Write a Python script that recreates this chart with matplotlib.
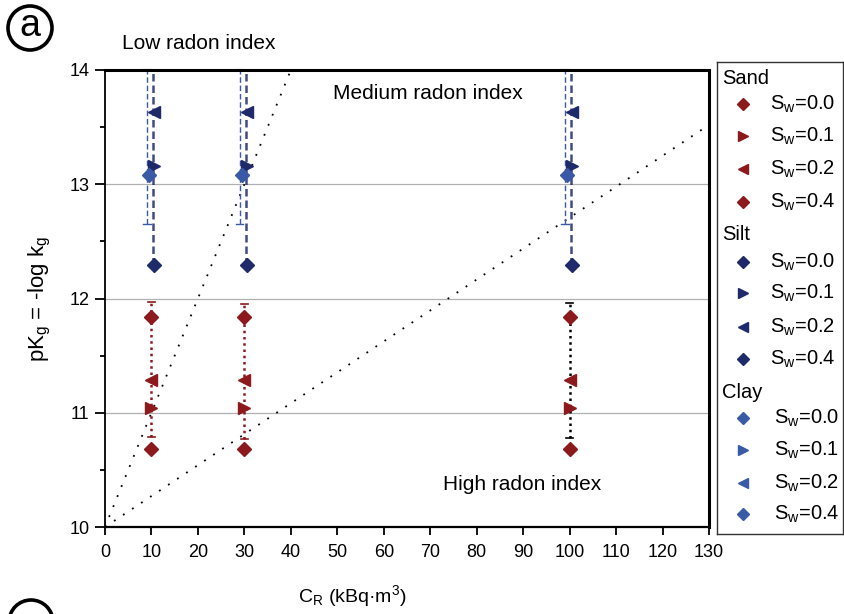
import matplotlib
matplotlib.use("Agg")
import matplotlib.pyplot as plt
from matplotlib.patches import Circle

plt.rcParams['font.family'] = ['Liberation Sans', 'DejaVu Sans']
plt.rcParams['mathtext.fontset'] = 'custom'
plt.rcParams['mathtext.rm'] = 'Liberation Sans'
plt.rcParams['mathtext.it'] = 'Liberation Sans'

# ---- data ----
concentrations = [10, 30, 100]                 # C_R (kBq m-3)
saturations = ["0.0", "0.1", "0.2", "0.4"]
sand_pk = [10.68, 11.04, 11.29, 11.84]          # pKg for Sw = 0.0, 0.1, 0.2, 0.4
silt_pk = [12.29, 13.16, 13.63, None]
clay_pk = [13.08, None, None, None]
sand_range = [(10.79, 11.97), (10.77, 11.95), (10.78, 11.96)]
silt_range = (12.29, 14.3)
clay_range = (12.65, 14.0)
boundary_low_med = [(0, 10.0), (40, 14.0)]
boundary_med_high = [(0, 10.0), (130, 13.52)]

SAND = "#8c1a1d"
SILT = "#1f2a6b"
CLAY = "#3a5aa8"
markers = ["D", ">", "<", "D"]
msizes = [6.8, 9, 9, 6.8]

fig = plt.figure(figsize=(8.44, 6.14), dpi=100)
W, H = 844, 614
ax = fig.add_axes([105 / W, 1 - 527 / H, (709 - 105) / W, (527 - 70) / H])

ax.set_xlim(0, 130)
ax.set_ylim(10, 14)

for yy in [11, 12, 13]:
    ax.axhline(yy, color="#b0b0b0", lw=0.9, zorder=0)

# boundary lines
for seg in (boundary_low_med, boundary_med_high):
    ax.plot([seg[0][0], seg[1][0]], [seg[0][1], seg[1][1]], color="black",
            lw=1.3, linestyle=(0, (1, 5)), zorder=1)

# error ranges
for i, x0 in enumerate(concentrations):
    lo, hi = sand_range[i]
    col = SAND if i < 2 else "black"
    ax.plot([x0, x0], [lo, hi], color=col, lw=1.8, linestyle=(0, (1, 1.5)), zorder=2)
    ax.plot([x0 - 0.8, x0 + 0.8], [hi, hi], color=col, lw=1.2, zorder=2)
    ax.plot([x0 - 0.8, x0 + 0.8], [lo, lo], color=col, lw=1.2, zorder=2)
    # clay
    xc = x0 - 1.0
    ax.plot([xc, xc], list(clay_range), color=CLAY, lw=1.0, linestyle=(0, (4, 2)), zorder=2,
            clip_on=False)
    ax.plot([xc - 0.8, xc + 0.8], [clay_range[0]] * 2, color=CLAY, lw=1.0, zorder=2)
    ax.plot([xc - 0.8, xc + 0.8], [clay_range[1]] * 2, color=CLAY, lw=1.5, zorder=2,
            clip_on=False)
    # silt
    xs = x0 + 0.4
    ax.plot([xs, xs], [silt_range[0], 14.0], color=SILT, lw=1.8, linestyle=(0, (3, 1.6)),
            alpha=0.85, zorder=2)

# points
for x0 in concentrations:
    for k in range(4):
        if sand_pk[k] is not None:
            ax.plot(x0, sand_pk[k], marker=markers[k], ms=msizes[k], color=SAND,
                    ls="none", zorder=4)
        if silt_pk[k] is not None:
            ax.plot(x0 + 0.6, silt_pk[k], marker=markers[k], ms=msizes[k], color=SILT,
                    ls="none", zorder=4)
        if clay_pk[k] is not None:
            ax.plot(x0 - 0.6, clay_pk[k], marker=markers[k], ms=msizes[k], color=CLAY,
                    ls="none", zorder=5)

# axes styling
ax.set_xticks(range(0, 131, 10))
ax.set_yticks([10, 11, 12, 13, 14])
ax.set_yticks([10.5, 11.5, 12.5, 13.5], minor=True)
ax.tick_params(axis="x", which="major", direction="out", length=5.5, width=1.3,
               labelsize=13, pad=7)
ax.tick_params(axis="y", which="major", direction="out", length=7, width=1.3,
               labelsize=13, pad=4)
ax.tick_params(axis="y", which="minor", direction="out", length=3.6, width=1.3)
ax.spines["top"].set_linewidth(2.2)
ax.spines["right"].set_linewidth(2.2)
ax.spines["bottom"].set_linewidth(1.6)
ax.spines["left"].set_linewidth(1.3)

ax.set_xlabel(r"C$_\mathregular{R}$ (kBq·m$^\mathregular{3}$)", fontsize=14)
ax.xaxis.set_label_coords((352 - 105) / 604, -(596 - 527) / 457, transform=ax.transAxes)
ax.xaxis.label.set_va("center")
ax.set_ylabel(r"pK$_\mathregular{g}$ = -log k$_\mathregular{g}$", fontsize=16)
ax.yaxis.set_label_coords(-(105 - 40) / 604, 0.5, transform=ax.transAxes)
ax.yaxis.label.set_va("center")

ax.text(0.156, 1.057, "Low radon index", transform=ax.transAxes, ha="center", va="center",
        fontsize=15)
ax.text(0.535, 0.948, "Medium radon index", transform=ax.transAxes, ha="center", va="center",
        fontsize=15)
ax.text(0.69, 0.094, "High radon index", transform=ax.transAxes, ha="center", va="center",
        fontsize=15)

# panel label
circ_ax = fig.add_axes([0, 1 - 62 / H, 62 / W, 62 / H])
circ_ax.set_xlim(0, 62)
circ_ax.set_ylim(62, 0)
circ_ax.axis("off")
circ_ax.add_patch(Circle((30, 28), 22, fill=False, lw=2.6, color="black"))
circ_ax.text(30, 26, "a", ha="center", va="center", fontsize=27)

# next panel label (cut off)
b_ax = fig.add_axes([0, 0, 62 / W, 20 / H])
b_ax.set_xlim(0, 62)
b_ax.set_ylim(20, 0)
b_ax.axis("off")
b_ax.add_patch(Circle((31, 28), 22, fill=False, lw=2.6, color="black", clip_on=True))

# legend
LX0, LX1, LY0, LY1 = 717, 843, 62, 534
lg = fig.add_axes([LX0 / W, 1 - LY1 / H, (LX1 - LX0) / W, (LY1 - LY0) / H])
lg.set_xlim(LX0, LX1)
lg.set_ylim(LY1, LY0)
lg.set_xticks([])
lg.set_yticks([])
for s in lg.spines.values():
    s.set_linewidth(1.0)
    s.set_color("#333333")

groups = [("Sand", SAND, 78, [104, 136, 169, 202], 770),
          ("Silt", SILT, 235, [262, 293, 327, 359], 770),
          ("Clay", CLAY, 392, [418, 450, 483, 514], 774)]
for name, col, yh, ys, xt in groups:
    lg.text(722, yh, name, ha="left", va="center", fontsize=14.5)
    for k, yy in enumerate(ys):
        lg.plot(743, yy, marker=markers[k], ms=msizes[k] * 0.85, color=col, ls="none")
        lg.text(xt, yy, r"S$_\mathregular{w}$=" + saturations[k], ha="left", va="center",
                fontsize=14.5)

fig.savefig("out.png", dpi=100)
